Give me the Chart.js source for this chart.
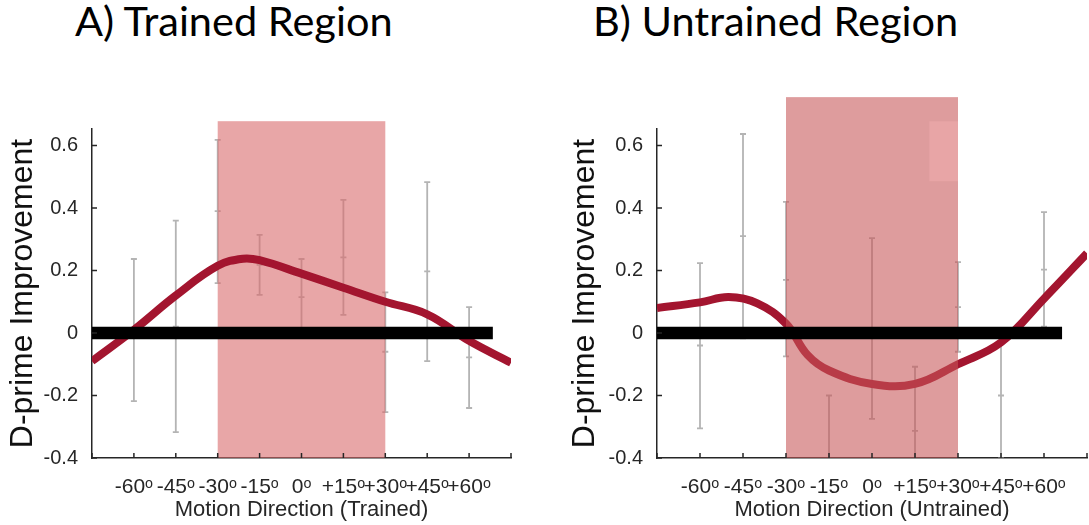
<!DOCTYPE html>
<html>
<head>
<meta charset="utf-8">
<script src="https://cdn.jsdelivr.net/npm/chart.js@4.4.1/dist/chart.umd.min.js"></script>
<style>
    body { margin: 0; background: #fff; }
    #figura { position: relative; width: 1089px; height: 525px; overflow: hidden; }
    .titulo { position: absolute; top: 0; font-family: Lato, "Open Sans", sans-serif; font-size: 41.5px; line-height: 1; color: #000; white-space: nowrap; }
    canvas { position: absolute; top: 0; }
</style>
</head>
<body>
<div id="figura">
    <div class="titulo" style="left: 75px">A) Trained Region</div>
    <div class="titulo" style="left: 593px">B) Untrained Region</div>
    <canvas id="chartTrained" width="545" height="525" style="left: 0"></canvas>
    <canvas id="chartUntrained" width="544" height="525" style="left: 545px"></canvas>
</div>
<script>
// directions (deg) where the error bars sit
const directions = [-60, -45, -30, -15, 0, 15, 30, 45, 60];
const xTicks = [-75, -60, -45, -30, -15, 0, 15, 30, 45, 60, 75];
const xTickLabels = ["", "-60ᵒ", "-45ᵒ", "-30ᵒ", "-15ᵒ", "0ᵒ", "+15ᵒ", "+30ᵒ", "+45ᵒ", "+60ᵒ", ""];
const yTicks = [-0.4, -0.2, 0, 0.2, 0.4, 0.6];
const yTickLabels = ["-0.4", "-0.2", "0", "0.2", "0.4", "0.6"];

// A) trained region
const trainedMean = [0.01, 0.02, 0.39, 0.218, 0.115, 0.242, -0.06, 0.197, -0.078];
const trainedLow = [-0.218, -0.317, 0.16, 0.122, -0.007, 0.058, -0.253, -0.09, -0.24];
const trainedHigh = [0.237, 0.36, 0.618, 0.314, 0.237, 0.426, 0.13, 0.483, 0.083];
const trainedFitX = [-75, -60, -45, -30, -21, -15, 0, 15, 30, 45, 60, 75];
const trainedFitY = [-0.09, 0.01, 0.12, 0.215, 0.238, 0.233, 0.19, 0.145, 0.1, 0.06, -0.025, -0.095];

// B) untrained region
const untrainedMean = [-0.04, 0.31, 0.17, -0.41, 0.015, -0.313, 0.083, -0.2, 0.203];
const untrainedLow = [-0.305, -0.017, -0.075, -0.62, -0.275, -0.518, -0.06, -0.4, 0.02];
const untrainedHigh = [0.224, 0.637, 0.42, -0.2, 0.304, -0.108, 0.227, 0.0, 0.387];
const untrainedFitX = [-75, -60, -50, -40, -30, -22.5, -15, 0, 15, 30, 45, 60, 75];
const untrainedFitY = [0.08, 0.098, 0.115, 0.095, 0.03, -0.07, -0.12, -0.163, -0.163, -0.1, -0.03, 0.11, 0.255];

// shaded trained range and its top
const shadeRange = [-30, 30];
const trainedShadeTop = 0.678;
const untrainedShadeTop = 0.755;
// lighter patch that shows inside the untrained shade
const patchRange = [20, 30];
const patchValues = [0.486, 0.678];
// where the zero reference line stops
const trainedZeroEnd = 68.5;
const untrainedZeroEnd = 66.3;

Chart.defaults.font.family = "'Liberation Sans', Arial, sans-serif";

function drawErrorBars(chart, o) {
    const { ctx, chartArea, scales } = chart;
    ctx.save();
    ctx.beginPath();
    ctx.rect(chartArea.left, chartArea.top, chartArea.width, chartArea.height);
    ctx.clip();
    ctx.strokeStyle = "rgba(130, 130, 130, 0.6)";
    ctx.lineWidth = 1.8;
    directions.forEach((d, i) => {
        let px = scales.x.getPixelForValue(d);
        let yl = scales.y.getPixelForValue(o.low[i]);
        let ym = scales.y.getPixelForValue(o.mean[i]);
        let yh = scales.y.getPixelForValue(o.high[i]);
        ctx.beginPath();
        ctx.moveTo(px, yl);
        ctx.lineTo(px, yh);
        [yl, ym, yh].forEach((py) => {
            ctx.moveTo(px - 3, py);
            ctx.lineTo(px + 3, py);
        });
        ctx.stroke();
    });
    ctx.restore();
}

function fillRange(chart, xr, yr, color) {
    const { ctx, scales } = chart;
    let x0 = scales.x.getPixelForValue(xr[0]);
    let x1 = scales.x.getPixelForValue(xr[1]);
    let y0 = scales.y.getPixelForValue(yr[1]);
    let y1 = scales.y.getPixelForValue(yr[0]);
    ctx.save();
    ctx.fillStyle = color;
    ctx.fillRect(x0, y0, x1 - x0, y1 - y0);
    ctx.restore();
}

function drawShade(chart, o) {
    fillRange(chart, shadeRange, [-0.4, o.shadeTop], o.shadeColor);
    if (o.patch) fillRange(chart, patchRange, patchValues, "rgb(232, 165, 166)");
}

function drawInwardTicks(chart) {
    const { ctx, chartArea, scales } = chart;
    ctx.save();
    ctx.strokeStyle = "#262626";
    ctx.lineWidth = 1.5;
    ctx.beginPath();
    scales.x.ticks.forEach((t) => {
        let px = scales.x.getPixelForValue(t.value);
        ctx.moveTo(px, chartArea.bottom);
        ctx.lineTo(px, chartArea.bottom - 5);
    });
    scales.y.ticks.forEach((t) => {
        let py = scales.y.getPixelForValue(t.value);
        ctx.moveTo(chartArea.left, py);
        ctx.lineTo(chartArea.left + 5, py);
    });
    ctx.stroke();
    ctx.restore();
}

const panelExtras = {
    id: "panelExtras",
    beforeDatasetsDraw(chart, args, o) {
        drawErrorBars(chart, o);
        if (!o.shadeOnTop) drawShade(chart, o);
    },
    afterDatasetDraw(chart, args, o) {
        // shade goes over the fit but under the zero line
        if (o.shadeOnTop && args.index === 1) drawShade(chart, o);
    },
    afterDraw(chart) {
        drawInwardTicks(chart);
    },
};

function buildPanel(canvasId, cfg) {
    return new Chart(document.getElementById(canvasId), {
        type: "line",
        plugins: [panelExtras],
        data: {
            datasets: [
                {
                    label: "zero",
                    data: [{ x: -75, y: 0 }, { x: cfg.zeroEnd, y: 0 }],
                    borderColor: "#000",
                    borderWidth: 12.5,
                    borderCapStyle: "butt",
                    pointRadius: 0,
                    order: 0,
                },
                {
                    label: "fit",
                    data: cfg.fitX.map((x, i) => ({ x: x, y: cfg.fitY[i] })),
                    borderColor: "#a3152f",
                    borderWidth: 8,
                    pointRadius: 0,
                    tension: 0.4,
                    order: 1,
                },
            ],
        },
        options: {
            responsive: false,
            animation: false,
            layout: { padding: { left: 0, top: 129, right: cfg.padRight, bottom: 0 } },
            plugins: {
                legend: { display: false },
                tooltip: { enabled: false },
                panelExtras: {
                    mean: cfg.mean,
                    low: cfg.low,
                    high: cfg.high,
                    shadeTop: cfg.shadeTop,
                    shadeColor: cfg.shadeColor,
                    shadeOnTop: cfg.shadeOnTop,
                    patch: cfg.patch,
                },
            },
            scales: {
                x: {
                    type: "linear",
                    min: -75,
                    max: 75,
                    grid: { display: false },
                    border: { display: true, color: "#262626", width: 1.5 },
                    afterBuildTicks: (axis) => {
                        axis.ticks = xTicks.map((v) => ({ value: v }));
                    },
                    afterFit: (axis) => {
                        axis.height = 67;
                        // the end labels are blank, no side padding needed
                        axis.paddingLeft = 0;
                        axis.paddingRight = 0;
                    },
                    ticks: {
                        autoSkip: false,
                        maxRotation: 0,
                        minRotation: 0,
                        padding: 9,
                        color: "#262626",
                        font: { size: 21 },
                        callback: (v) => xTickLabels[xTicks.indexOf(v)],
                    },
                    title: {
                        display: true,
                        text: cfg.xTitle,
                        color: "#262626",
                        font: { size: 22 },
                        padding: { top: 0, bottom: 2 },
                    },
                },
                y: {
                    type: "linear",
                    min: -0.4,
                    max: 0.653,
                    grid: { display: false },
                    border: { display: true, color: "#262626", width: 1.5 },
                    afterBuildTicks: (axis) => {
                        axis.ticks = yTicks.map((v) => ({ value: v }));
                    },
                    afterFit: (axis) => {
                        axis.width = cfg.yWidth;
                    },
                    ticks: {
                        padding: 6,
                        color: "#262626",
                        font: { size: 20 },
                        callback: (v) => yTickLabels[yTicks.indexOf(v)],
                    },
                    title: {
                        display: true,
                        text: "D-prime Improvement",
                        color: "#111",
                        font: { size: 32 },
                        padding: { top: cfg.yTitlePad, bottom: 0 },
                    },
                },
            },
        },
    });
}

buildPanel("chartTrained", {
    mean: trainedMean,
    low: trainedLow,
    high: trainedHigh,
    fitX: trainedFitX,
    fitY: trainedFitY,
    zeroEnd: trainedZeroEnd,
    shadeTop: trainedShadeTop,
    shadeColor: "rgba(217, 107, 108, 0.6)",
    shadeOnTop: false,
    patch: false,
    xTitle: "Motion Direction (Trained)",
    padRight: 34,
    yWidth: 92,
    yTitlePad: 4,
});

buildPanel("chartUntrained", {
    mean: untrainedMean,
    low: untrainedLow,
    high: untrainedHigh,
    fitX: untrainedFitX,
    fitY: untrainedFitY,
    zeroEnd: untrainedZeroEnd,
    shadeTop: untrainedShadeTop,
    shadeColor: "rgba(199, 86, 88, 0.59)",
    shadeOnTop: true,
    patch: true,
    xTitle: "Motion Direction (Untrained)",
    padRight: 2,
    yWidth: 112,
    yTitlePad: 21,
});
</script>
</body>
</html>
